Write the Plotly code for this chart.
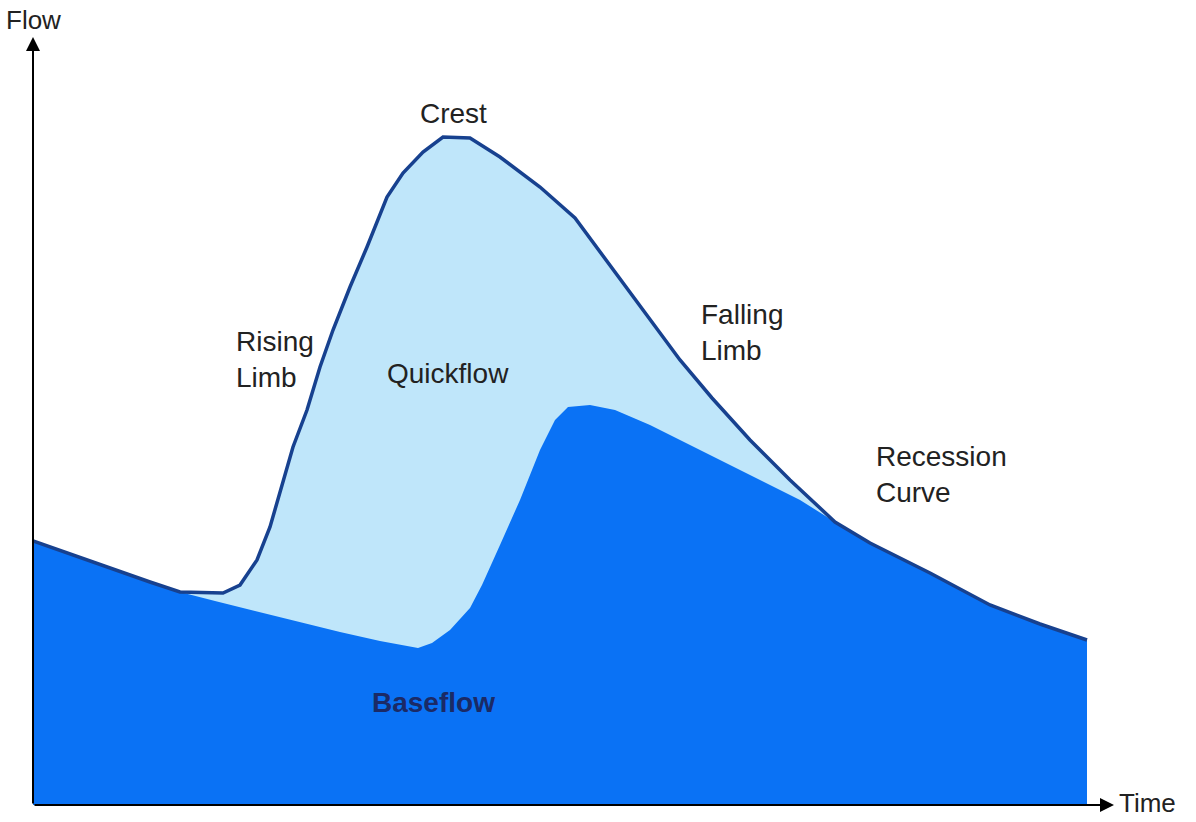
import plotly.graph_objects as go

# Time (t) and flow (q) values (arbitrary units)
total_t = [0, 67, 117, 147, 190, 207, 224, 237, 247, 260, 274, 287, 300, 317, 334, 354, 370, 390, 410, 437, 467, 507, 542, 577, 612, 647, 679, 717, 757, 802, 837, 897, 957, 1007, 1054]
total_q = [264, 240, 223, 213, 212, 220, 245, 278, 312, 358, 395, 438, 475, 518, 558, 608, 632, 653, 668, 667, 648, 618, 587, 540, 492, 445, 407, 365, 325, 283, 262, 232, 200, 181, 165]

base_t = [0, 67, 117, 147, 182, 227, 267, 307, 347, 385, 399, 417, 437, 449, 467, 487, 507, 522, 535, 557, 582, 617, 667, 717, 767, 802, 837, 897, 957, 1007, 1054]
base_q = [264, 240, 223, 213, 204, 193, 183, 173, 164, 157, 162, 175, 197, 220, 260, 305, 355, 385, 398, 400, 395, 380, 355, 330, 305, 283, 262, 232, 200, 181, 165]

labels = ["Crest", "Rising<br>Limb", "Quickflow", "Falling<br>Limb", "Recession<br>Curve", "<b>Baseflow</b>"]
label_t = [420, 201, 415, 666, 841, 400]
label_q = [692, 446, 432, 473, 331, 103]
label_anchor = ["center", "left", "center", "left", "left", "center"]

FONT = "Liberation Sans, Arial"
W, H = 1196, 822
L, B = 33, 17
XMAX, YMAX = 1163, 805

fig = go.Figure()
fig.add_trace(go.Scatter(x=total_t, y=total_q, mode="lines", line=dict(width=0, color="#bfe6fa"),
                         fill="tozeroy", fillcolor="#bfe6fa", hoverinfo="skip"))
fig.add_trace(go.Scatter(x=base_t, y=base_q, mode="lines", line=dict(width=0, color="#0a72f5"),
                         fill="tozeroy", fillcolor="#0a72f5", hoverinfo="skip"))
fig.add_trace(go.Scatter(x=total_t, y=total_q, mode="lines", line=dict(width=3.5, color="#17418f"),
                         hoverinfo="skip"))

for txt, t, q, a in zip(labels, label_t, label_q, label_anchor):
    fig.add_annotation(x=t, y=q, text=txt, showarrow=False, xanchor=a, yanchor="middle", align="left",
                       font=dict(family=FONT, size=28,
                                 color="#1b2a66" if "Baseflow" in txt else "#222222"))

# axes with arrows
fig.add_annotation(x=0, y=768, ax=0, ay=0, xref="x", yref="y", axref="x", ayref="y",
                   showarrow=True, arrowhead=2, arrowsize=1.4, arrowwidth=2, arrowcolor="#000", text="")
fig.add_annotation(x=1081, y=0, ax=0, ay=0, xref="x", yref="y", axref="x", ayref="y",
                   showarrow=True, arrowhead=2, arrowsize=1.4, arrowwidth=2, arrowcolor="#000", text="")
fig.add_annotation(x=(4 - L) / XMAX, y=(805 - 20) / YMAX, xref="paper", yref="paper", text="Flow",
                   showarrow=False, xanchor="left", yanchor="middle",
                   font=dict(family=FONT, size=26, color="#222222"))
fig.add_annotation(x=(1117 - L) / XMAX, y=(805 - 803) / YMAX, xref="paper", yref="paper", text="Time",
                   showarrow=False, xanchor="left", yanchor="middle",
                   font=dict(family=FONT, size=26, color="#222222"))

fig.update_layout(width=W, height=H, margin=dict(l=L, r=0, t=0, b=B, autoexpand=False),
                  paper_bgcolor="white", plot_bgcolor="white", showlegend=False)
fig.update_xaxes(range=[0, XMAX], visible=False)
fig.update_yaxes(range=[0, YMAX], visible=False)
fig.write_html("out.html", config={"displayModeBar": False},
               post_script="document.body.style.margin='0';document.body.style.overflow='hidden';")
